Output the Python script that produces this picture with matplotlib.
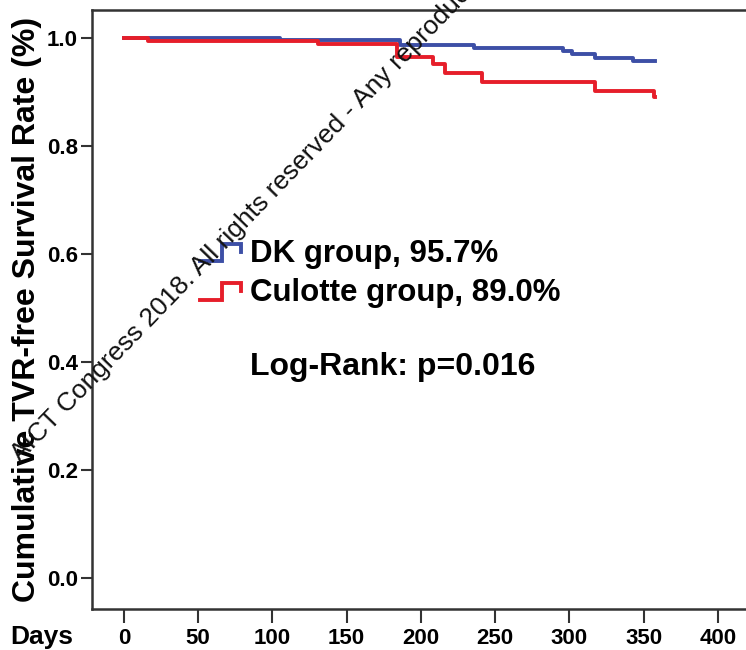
import matplotlib

matplotlib.use("Agg")
import matplotlib.pyplot as plt  # noqa: E402
from matplotlib.legend_handler import HandlerBase  # noqa: E402
from matplotlib.lines import Line2D  # noqa: E402

# Kaplan-Meier step data (days, survival)
dk_days = [0, 105, 186, 236, 296, 302, 317, 343, 358]
dk_surv = [1.000, 0.996, 0.988, 0.982, 0.976, 0.971, 0.963, 0.958, 0.957]
culotte_days = [0, 16, 131, 184, 208, 216, 241, 317, 357, 358]
culotte_surv = [1.000, 0.994, 0.989, 0.965, 0.951, 0.936, 0.918, 0.902, 0.890, 0.890]

group_labels = ["DK group, 95.7%", "Culotte group, 89.0%"]
logrank_text = "Log-Rank: p=0.016"
x_ticks = [0, 50, 100, 150, 200, 250, 300, 350, 400]
y_ticks = [0.0, 0.2, 0.4, 0.6, 0.8, 1.0]

BLUE = "#3d4fa6"
RED = "#e61e2a"
BOLD = ["Liberation Sans", "DejaVu Sans"]


class StepHandler(HandlerBase):
    # little step icon like the SPSS legend
    def create_artists(self, legend, orig_handle, xdescent, ydescent, width, height, fontsize, trans):
        xs = [0.0, 0.55, 0.55, 1.0, 1.0]
        ys = [0.0, 0.0, 0.85, 0.85, 0.45]
        line = Line2D([-xdescent + width * x for x in xs],
                      [-ydescent + height * y for y in ys],
                      color=orig_handle.get_color(), lw=orig_handle.get_linewidth(),
                      solid_joinstyle="miter", transform=trans)
        return [line]


fig = plt.figure(figsize=(7.46, 6.5), dpi=100)
ax = fig.add_axes([92 / 746, 41 / 650, 654 / 746, 599 / 650])

dk_line, = ax.step(dk_days, dk_surv, where="post", color=BLUE, lw=2.8, label=group_labels[0])
cu_line, = ax.step(culotte_days, culotte_surv, where="post", color=RED, lw=2.8, label=group_labels[1])

ax.set_xlim(-21.5, 419)
ax.set_ylim(-0.0574, 1.0519)
ax.set_xticks(x_ticks)
ax.set_yticks(y_ticks)
ax.set_xticklabels([str(t) for t in x_ticks], family=BOLD, fontweight="bold", fontsize=16)
ax.set_yticklabels([f"{t:.1f}" for t in y_ticks], family=BOLD, fontweight="bold", fontsize=16)
ax.tick_params(axis="both", direction="out", length=8, width=1.5, color="#333333", pad=2)
ax.tick_params(axis="x", length=10, pad=4)

for side in ["left", "bottom", "top"]:
    ax.spines[side].set_linewidth(1.8)
    ax.spines[side].set_color("#333333")
ax.spines["right"].set_visible(False)

ax.set_ylabel("Cumulative TVR-free Survival Rate (%)", family=BOLD, fontweight="bold",
              fontsize=23, labelpad=4)
fig.text(10 / 746, 1 - 637 / 650, "Days", family=BOLD, fontweight="bold", fontsize=19,
         ha="left", va="center")

leg = ax.legend(handles=[dk_line, cu_line], handler_map={Line2D: StepHandler()},
                loc="center left", bbox_to_anchor=(108 / 654, (609 - 273.5) / 599),
                frameon=False, prop={"family": BOLD, "weight": "bold", "size": 22.5},
                handlelength=1.3, handleheight=0.6, handletextpad=0.3, labelspacing=0.3,
                borderpad=0, borderaxespad=0)

ax.text((250 - 92) / 654, (609 - 367) / 599, logrank_text, transform=ax.transAxes,
        family=BOLD, fontweight="bold", fontsize=23, ha="left", va="center")

# conference watermark running diagonally across the plot
fig.text(20 / 746, 1 - 463 / 650,
         "AICT Congress 2018. All rights reserved - Any reproduction",
         family=BOLD, fontsize=19, rotation=46, rotation_mode="anchor",
         ha="left", va="baseline", color="#111111")

fig.savefig("out.png", dpi=100)
